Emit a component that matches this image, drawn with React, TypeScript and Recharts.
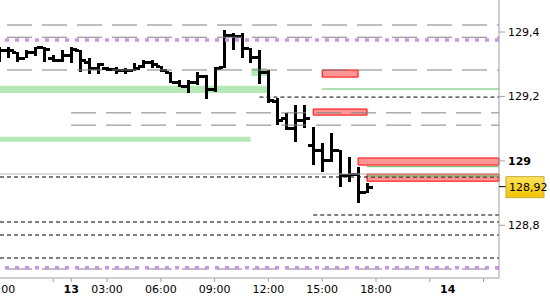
import React from 'react'
import {
  ComposedChart,
  Bar,
  XAxis,
  YAxis,
  ReferenceLine,
  ReferenceArea,
} from 'recharts'

// hours relative to the 13th 00:00, one bar per 30 minutes
const times = [
  -3, -2.5, -2, -1.5, -1, -0.5, 0, 0.5, 1, 1.5, 2, 2.5, 3, 3.5, 4, 4.5, 5, 5.5, 6, 6.5, 7,
  7.5, 8, 8.5, 9, 9.5, 10, 10.5, 11, 11.5, 12, 12.5, 13, 13.5, 14, 14.5, 15, 15.5, 16, 16.5,
  17, 17.5,
]
const opens = [
  129.329, 129.344, 129.338, 129.319, 129.338, 129.353, 129.319, 129.313, 129.329, 129.344,
  129.307, 129.288, 129.288, 129.285, 129.282, 129.282, 129.295, 129.307, 129.295, 129.276,
  129.245, 129.232, 129.245, 129.263, 129.223, 129.291, 129.391, 129.388, 129.35, 129.322,
  129.276, 129.186, 129.133, 129.102, 129.127, 129.049, 129.034, 129.003, 129.034, 128.956,
  128.959, 128.903,
]
const highs = [
  129.353, 129.353, 129.338, 129.344, 129.353, 129.353, 129.329, 129.344, 129.353, 129.344,
  129.319, 129.304, 129.291, 129.291, 129.288, 129.304, 129.313, 129.313, 129.295, 129.276,
  129.251, 129.251, 129.276, 129.267, 129.291, 129.406, 129.397, 129.397, 129.35, 129.344,
  129.282, 129.195, 129.149, 129.173, 129.173, 129.105, 129.056, 129.087, 129.034, 129.012,
  128.981, 128.931,
]
const lows = [
  129.307, 129.319, 129.307, 129.319, 129.326, 129.307, 129.307, 129.307, 129.304, 129.276,
  129.27, 129.27, 129.279, 129.27, 129.27, 129.279, 129.288, 129.288, 129.276, 129.242,
  129.229, 129.211, 129.236, 129.192, 129.214, 129.288, 129.344, 129.319, 129.304, 129.239,
  129.18, 129.111, 129.096, 129.059, 129.102, 128.987, 128.966, 128.997, 128.919, 128.934,
  128.869, 128.9,
]
const closes = [
  129.344, 129.344, 129.319, 129.338, 129.353, 129.347, 129.313, 129.329, 129.347, 129.313,
  129.288, 129.301, 129.285, 129.282, 129.282, 129.288, 129.307, 129.301, 129.282, 129.245,
  129.232, 129.245, 129.263, 129.223, 129.288, 129.391, 129.388, 129.35, 129.322, 129.276,
  129.189, 129.127, 129.102, 129.127, 129.133, 129.034, 129.003, 129.034, 128.956, 128.959,
  128.903, 128.919,
]

const lastPrice = 128.92
const priceTicks = [128.8, 128.92, 129, 129.2, 129.4]
const timeTicks = [-3, 0, 1, 3, 6, 9, 12, 15, 18, 21, 22, 24]
const timeLabels: Record<number, string> = {
  [-3]: '21:00', 0: '', 1: '13', 3: '03:00', 6: '06:00', 9: '09:00', 12: '12:00',
  15: '15:00', 18: '18:00', 21: '', 22: '14', 24: '',
}
const boldTimes = [1, 22]
const noTickLine = [22]

// horizontal levels
const grayDashed = [
  { from: -4.53, y: 129.4217 },
  { from: -4.53, y: 129.3837 },
  { from: -4.53, y: 129.2821 },
  { from: 1, y: 129.149 },
  { from: 1, y: 129.111 },
  { from: -4.53, y: 128.6644 },
]
const blackDashed = [
  { from: 11.5, y: 129.198 },
  { from: -4.53, y: 128.95 },
  { from: 14.5, y: 128.832 },
  { from: -4.53, y: 128.8103 },
  { from: -4.53, y: 128.77 },
  { from: -4.53, y: 128.6986 },
]
const purpleDotted = [129.3752, 128.6685]
const graySolid = [128.9593]
const greenBands = [
  { x1: -4.53, x2: 12, y1: 129.233, y2: 129.211 },
  { x1: -4.53, x2: 11, y1: 129.075, y2: 129.059 },
  { x1: 11.05, x2: 11.92, y1: 129.288, y2: 129.263 },
]
const greenLines = [
  { from: 15, y: 129.223 },
  { from: 17.5, y: 128.982 },
]
const redBoxes = [
  { x1: 15, x2: 17, y1: 129.282, y2: 129.26 },
  { x1: 14.5, x2: 17.5, y1: 129.161, y2: 129.142 },
  { x1: 17, x2: 24.86, y1: 129.009, y2: 128.987 },
  { x1: 17.5, x2: 24.86, y1: 128.959, y2: 128.937 },
]
const greenInnerLines = [{ from: 17.5, y: 128.953 }]

const X_MIN = -4.53
const X_MAX = 24.86

const bars = times.map((t, i) => ({
  t,
  o: opens[i],
  h: highs[i],
  l: lows[i],
  c: closes[i],
  range: [lows[i], highs[i]],
}))

const FONT = 'DejaVu Sans'

function OhlcShape(props: any) {
  const { x, y, width, height, payload } = props
  if (x == null || y == null) return null
  const cx = Math.round(x + width / 2)
  const top = Math.min(y, y + height)
  const hgt = Math.abs(height)
  const span = payload.h - payload.l
  const k = span > 0 ? hgt / span : 0
  const oy = Math.round(top + (payload.h - payload.o) * k)
  const cy = Math.round(top + (payload.h - payload.c) * k)
  return (
    <g fill="#000" shapeRendering="crispEdges">
      <rect x={cx - 1} y={Math.round(top)} width={3} height={Math.max(Math.round(hgt), 2)} />
      <rect x={cx - 5} y={oy - 1} width={4} height={3} />
      <rect x={cx + 2} y={cy - 1} width={4} height={3} />
    </g>
  )
}

function TimeTick(props: any) {
  const { x, y, payload } = props
  const v = payload.value
  return (
    <g>
      {!noTickLine.includes(v) && (
        <line x1={x} x2={x} y1={y - 6} y2={y - 2} stroke="#a0a0a0" />
      )}
      <text
        x={x}
        y={y + 1}
        dy="0.71em"
        textAnchor="middle"
        fontFamily={FONT}
        fontSize={11}
        fontWeight={boldTimes.includes(v) ? 'bold' : 'normal'}
        fill="#000"
      >
        {timeLabels[v]}
      </text>
    </g>
  )
}

function PriceTick(props: any) {
  const { x, y, payload } = props
  const v = payload.value
  const ax = x - 8
  if (v === lastPrice) {
    return (
      <g>
        <line x1={ax} x2={ax + 7} y1={y} y2={y} stroke="#000" />
        <rect x={ax + 7} y={y - 10} width={38} height={21} fill="url(#lastGrad)" stroke="#c8a83c" />
        <text x={ax + 10} y={y} dy="0.36em" fontFamily={FONT} fontSize={11} fill="#000">
          {String(v).replace('.', ',')}
        </text>
      </g>
    )
  }
  return (
    <g>
      <line x1={ax} x2={ax + 6} y1={y} y2={y} stroke="#a0a0a0" />
      <text
        x={ax + 9}
        y={y}
        dy="0.36em"
        fontFamily={FONT}
        fontSize={11}
        fontWeight={v === 129 ? 'bold' : 'normal'}
        fill="#000"
      >
        {String(v).replace('.', ',')}
      </text>
    </g>
  )
}

export default function App() {
  return (
    <div
      style={{
        position: 'fixed',
        left: 0,
        top: 0,
        width: 550,
        height: 300,
        overflow: 'hidden',
        background: '#fff',
      }}
    >
      <div style={{ position: 'absolute', left: -28, top: 0 }}>
        <ComposedChart
          width={578}
          height={300}
          data={bars}
          margin={{ top: 0, right: 0, left: 0, bottom: 0 }}
        >
          <defs>
            <linearGradient id="lastGrad" x1="0" y1="0" x2="0" y2="1">
              <stop offset="0%" stopColor="#ffe45c" />
              <stop offset="100%" stopColor="#f2c200" />
            </linearGradient>
          </defs>
          <XAxis
            type="number"
            dataKey="t"
            domain={[X_MIN, X_MAX]}
            allowDataOverflow
            ticks={timeTicks}
            interval={0}
            height={22}
            tickLine={false}
            tickSize={4}
            tickMargin={2}
            axisLine={{ stroke: '#a0a0a0' }}
            tick={<TimeTick />}
          />
          <YAxis
            orientation="right"
            type="number"
            domain={[128.6365, 129.4993]}
            allowDataOverflow
            ticks={priceTicks}
            interval={0}
            width={51}
            tickLine={false}
            tickSize={6}
            tickMargin={2}
            axisLine={{ stroke: '#a0a0a0' }}
            tick={<PriceTick />}
          />

          {greenBands.map((b, i) => (
            <ReferenceArea key={'gb' + i} x1={b.x1} x2={b.x2} y1={b.y1} y2={b.y2} fill="#b4e8b4" fillOpacity={1} stroke="none" />
          ))}
          {graySolid.map((p, i) => (
            <ReferenceLine key={'gs' + i} y={p} stroke="#b4b4b4" strokeWidth={1} />
          ))}
          {grayDashed.map((l, i) => (
            <ReferenceLine
              key={'gd' + i}
              segment={[{ x: l.from, y: l.y }, { x: X_MAX, y: l.y }]}
              stroke="#808080"
              strokeWidth={1}
              strokeDasharray="25 10"
            />
          ))}
          {blackDashed.map((l, i) => (
            <ReferenceLine
              key={'bd' + i}
              segment={[{ x: l.from, y: l.y }, { x: X_MAX, y: l.y }]}
              stroke="#000"
              strokeWidth={1}
              strokeDasharray="4 3"
            />
          ))}
          {purpleDotted.map((p, i) => (
            <ReferenceLine key={'pd' + i} y={p} stroke="#c896e6" strokeWidth={3.5} strokeDasharray="4 6" />
          ))}
          {greenLines.map((l, i) => (
            <ReferenceLine
              key={'gl' + i}
              segment={[{ x: l.from, y: l.y }, { x: X_MAX, y: l.y }]}
              stroke="#5cc05c"
              strokeWidth={1}
            />
          ))}
          {redBoxes.map((b, i) => (
            <ReferenceArea
              key={'rb' + i}
              x1={b.x1}
              x2={b.x2}
              y1={b.y1}
              y2={b.y2}
              fill="#ff9696"
              fillOpacity={1}
              stroke="#ff0000"
              strokeWidth={1}
            />
          ))}
          {greenInnerLines.map((l, i) => (
            <ReferenceLine
              key={'gi' + i}
              segment={[{ x: l.from, y: l.y }, { x: X_MAX, y: l.y }]}
              stroke="#5cc05c"
              strokeWidth={1}
            />
          ))}

          <Bar dataKey="range" barSize={3} shape={<OhlcShape />} isAnimationActive={false} />
        </ComposedChart>
      </div>
    </div>
  )
}
